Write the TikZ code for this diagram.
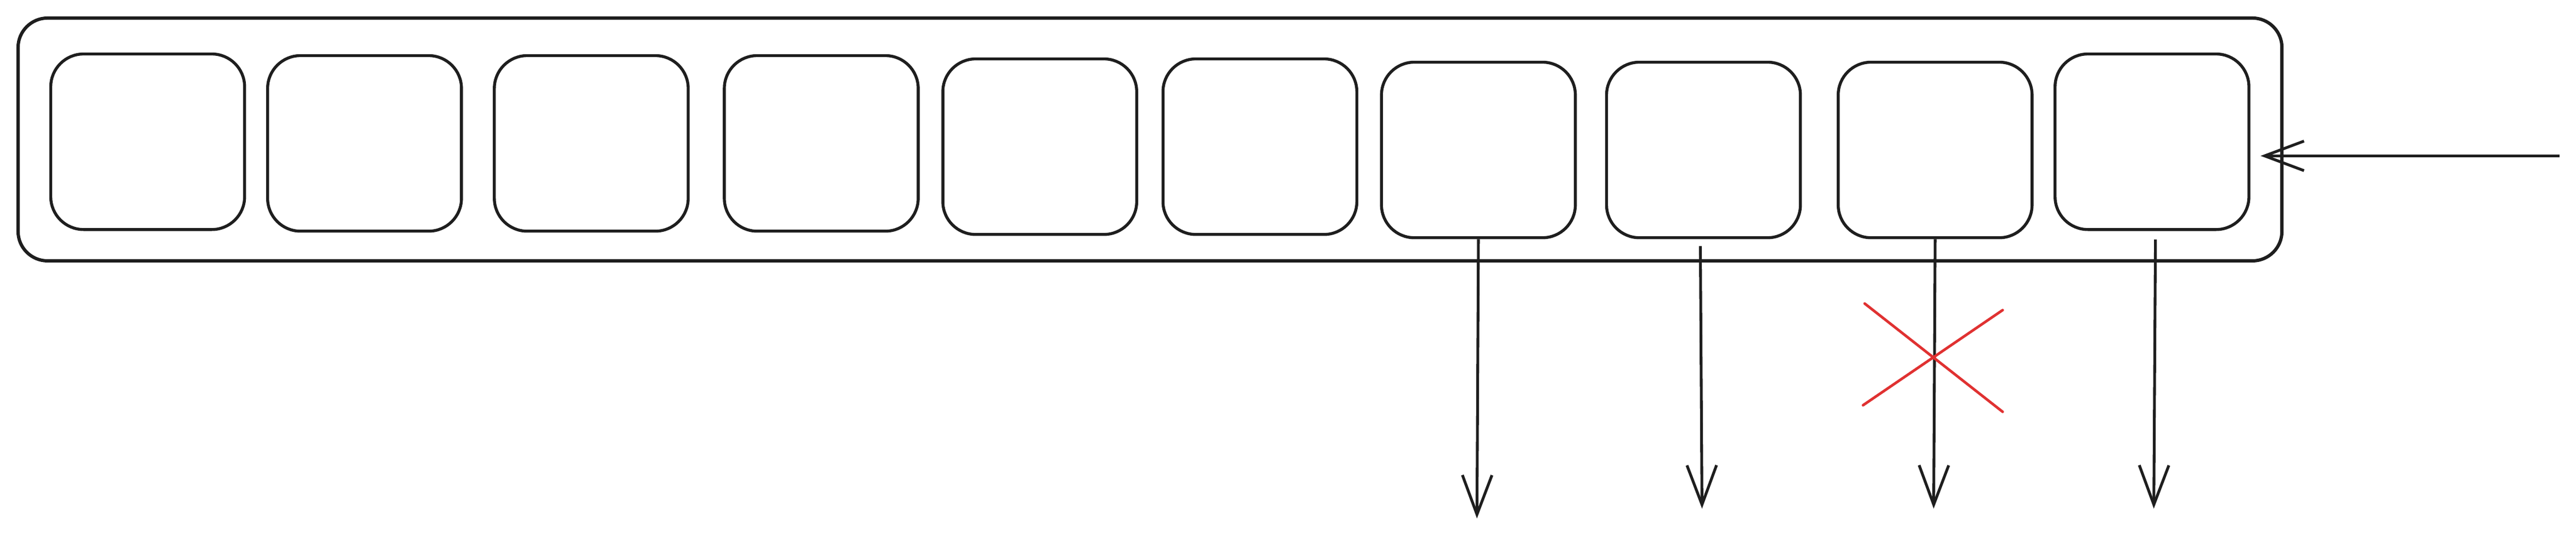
\documentclass[tikz,border=0pt]{standalone}
\usetikzlibrary{arrows.meta}
\definecolor{ink}{HTML}{1E1E1E}
\definecolor{xred}{HTML}{E03131}
\tikzset{
  cell/.style={draw=ink, line width=1.8pt, rounded corners=20pt, minimum width=118pt, minimum height=107pt, inner sep=0pt, anchor=north west},
  frame/.style={draw=ink, line width=2pt, rounded corners=18pt, inner sep=0pt, anchor=north west},
  link/.style={draw=ink, line width=1.7pt, -{Straight Barb[length=24pt,width=18pt,line width=1.7pt]}},
  cross/.style={draw=xred, line width=1.6pt, line cap=round}
}
\begin{document}
\begin{tikzpicture}[x=1pt,y=-1pt]
\useasboundingbox (0,0) rectangle (1568,326.4);
\node[frame, minimum width=1378pt, minimum height=148pt] (outer) at (10,10) {};
\node[cell] (b1) at (30,32) {};
\node[cell] (b2) at (162,33) {};
\node[cell] (b3) at (300,33) {};
\node[cell] (b4) at (440,33) {};
\node[cell] (b5) at (573,35) {};
\node[cell] (b6) at (707,35) {};
\node[cell] (b7) at (840,37) {};
\node[cell] (b8) at (977,37) {};
\node[cell] (b9) at (1118,37) {};
\node[cell] (b10) at (1250,32) {};
\coordinate (in) at (1558,95);
\coordinate (inend) at (1376,95);
\coordinate (s8) at (1035,150);
\coordinate (s10) at (1312,146);
\coordinate (e7) at (899,316);
\coordinate (e8) at (1036,310);
\coordinate (e9) at (1177,310);
\coordinate (e10) at (1311,310);
\draw[link] (in) -- (inend);
\draw[link] (b7.south) -- (e7);
\draw[link] (s8) -- (e8);
\draw[link] (b9.south) -- (e9);
\draw[link] (s10) -- (e10);
\coordinate (xa) at (1135,185);
\coordinate (xb) at (1219,251);
\coordinate (xc) at (1219,189);
\coordinate (xd) at (1134,247);
\draw[cross] (xa) -- (xb);
\draw[cross] (xc) -- (xd);
\end{tikzpicture}
\end{document}
